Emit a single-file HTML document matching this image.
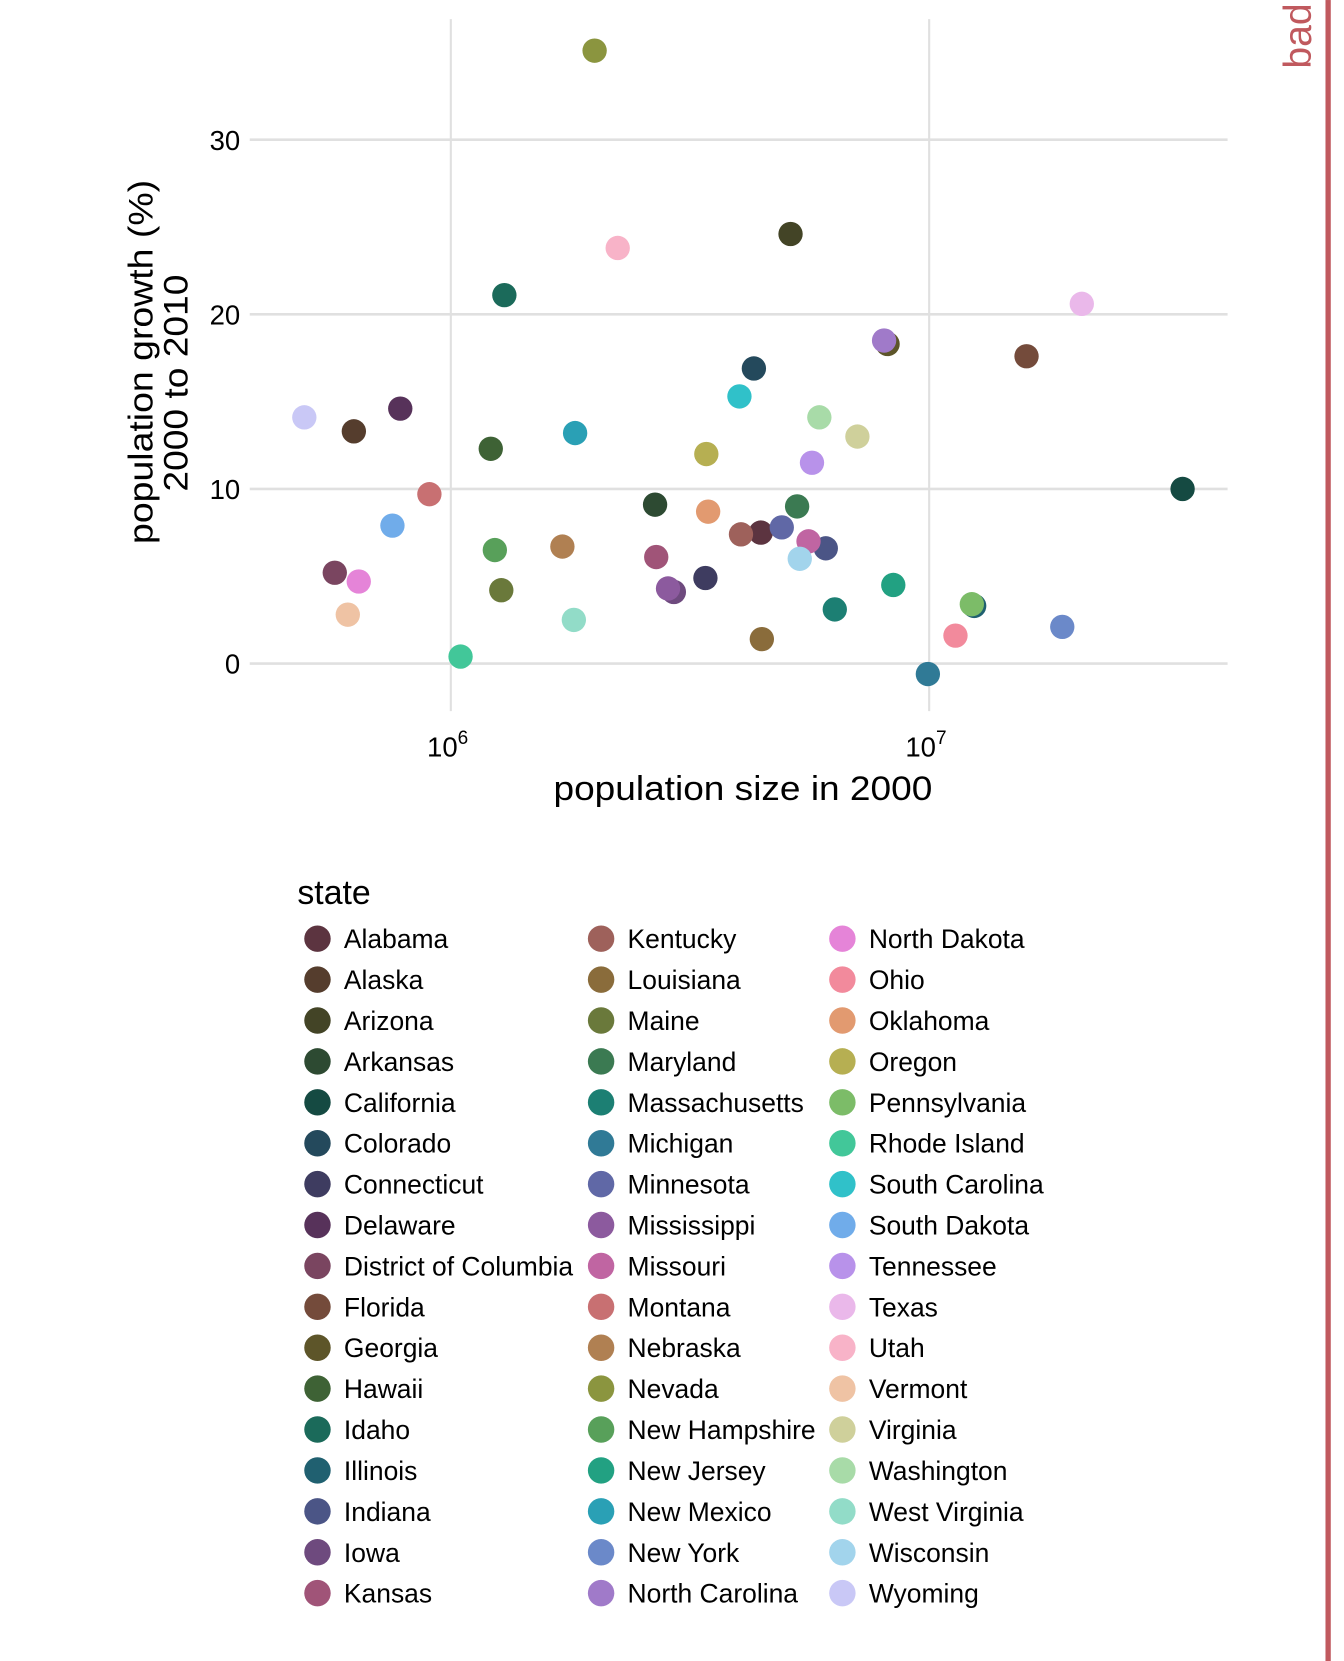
<!DOCTYPE html>
<html><head><meta charset="utf-8"><style>
html,body{margin:0;padding:0;background:#fff}
svg{display:block}
text{font-family:"Liberation Sans",Arial,sans-serif}
</style></head><body>
<svg id="chart" width="1344" height="1661" viewBox="0 0 1270 1569.5" xmlns="http://www.w3.org/2000/svg">
<g id="grid"></g>
<g id="points"></g>
<g id="axes"></g>
<g id="legend"></g>
<rect x="1252.5" y="0" width="5" height="1570" fill="#c0595e"/>
<text transform="translate(1239,34) rotate(-90)" text-anchor="middle" font-size="37" fill="#c0595e">bad</text>
</svg>
<script>
const states=["Alabama","Alaska","Arizona","Arkansas","California","Colorado","Connecticut","Delaware","District of Columbia","Florida","Georgia","Hawaii","Idaho","Illinois","Indiana","Iowa","Kansas","Kentucky","Louisiana","Maine","Maryland","Massachusetts","Michigan","Minnesota","Mississippi","Missouri","Montana","Nebraska","Nevada","New Hampshire","New Jersey","New Mexico","New York","North Carolina","North Dakota","Ohio","Oklahoma","Oregon","Pennsylvania","Rhode Island","South Carolina","South Dakota","Tennessee","Texas","Utah","Vermont","Virginia","Washington","West Virginia","Wisconsin","Wyoming"];
const pop2000=[4.447,0.627,5.131,2.673,33.87,4.301,3.406,0.784,0.572,15.98,8.186,1.212,1.294,12.42,6.080,2.926,2.688,4.042,4.469,1.275,5.296,6.349,9.938,4.919,2.845,5.595,0.902,1.711,1.998,1.236,8.414,1.819,18.98,8.049,0.642,11.35,3.451,3.421,12.28,1.048,4.012,0.755,5.689,20.85,2.233,0.609,7.079,5.894,1.808,5.364,0.494];
const growth=[7.5,13.3,24.6,9.1,10.0,16.9,4.9,14.6,5.2,17.6,18.3,12.3,21.1,3.3,6.6,4.1,6.1,7.4,1.4,4.2,9.0,3.1,-0.6,7.8,4.3,7.0,9.7,6.7,35.1,6.5,4.5,13.2,2.1,18.5,4.7,1.6,8.7,12.0,3.4,0.4,15.3,7.9,11.5,20.6,23.8,2.8,13.0,14.1,2.5,6.0,14.1];
const colors=["#5c3440","#553d2d","#434426","#2d4a32","#154a42","#24495c","#3e3c60","#57325a","#7a4560","#744b3b","#5d5529","#3e6235","#1b6a5a","#206070","#4b5586","#6e4a7e","#a05478","#9e615b","#8a6c3b","#6a793b","#3b7a52","#1c7f73","#307a96","#6068a6","#8c5a9e","#c065a2","#c87072","#b08052","#8b953f","#58a05a","#22a182","#2aa0b5","#6b89c9","#a07ac9","#e584d8","#f28a9c","#e29a70","#b6af52","#7cbc68","#42c799","#30c1c9","#70acea","#b892ea","#eab8ea","#f8b3c8","#efc3a4","#cfd09b","#a8dba8","#92dcc8","#a2d4ec","#c9c8f6"];
const yTicks=[0,10,20,30];
const xTickExp=[6,7];

const NS="http://www.w3.org/2000/svg";
function mk(tag,attrs,parent){const e=document.createElementNS(NS,tag);for(const k in attrs)e.setAttribute(k,attrs[k]);parent.appendChild(e);return e;}
const X0=236,X1=1160,Y0=18,Y1=672;
function xs(m){return 426+452*Math.log10(m);}
function ys(v){return 627-16.5*v;}
const grid=document.getElementById('grid'),pts=document.getElementById('points'),axes=document.getElementById('axes'),leg=document.getElementById('legend');

yTicks.forEach(t=>{
  const l=mk('line',{x1:X0,x2:X1,y1:ys(t),y2:ys(t),stroke:'#e0e0e0','stroke-width':2.5},grid);
  
  
  const tx=mk('text',{x:227,y:ys(t)+9.5,'text-anchor':'end','font-size':26,fill:'#000'},axes);
  tx.textContent=t;
  
  
});
xTickExp.forEach(e=>{
  const x=xs(Math.pow(10,e-6));
  const l=mk('line',{x1:x,x2:x,y1:Y0,y2:Y1,stroke:'#e0e0e0','stroke-width':2},grid);
  
  
  const tx=mk('text',{x:x-3,y:715,'text-anchor':'middle','font-size':26,fill:'#000'},axes);
  
  
  tx.textContent='10';
  const sp=mk('tspan',{dy:-12,'font-size':18},tx);sp.textContent=e;
});
states.forEach((s,i)=>{
  const c=mk('circle',{cx:xs(pop2000[i]),cy:ys(growth[i]),r:11.5,fill:colors[i]},pts);
  
  
});
let t=mk('text',{x:702,y:756,'text-anchor':'middle','font-size':32,fill:'#000',textLength:358,lengthAdjust:'spacingAndGlyphs'},axes);
t.textContent='population size in 2000';


t=mk('text',{transform:'translate(144,342) rotate(-90)','text-anchor':'middle','font-size':32,fill:'#000',textLength:344,lengthAdjust:'spacingAndGlyphs'},axes);
t.textContent='population growth (%)';


t=mk('text',{transform:'translate(177,362) rotate(-90)','text-anchor':'middle','font-size':32,fill:'#000',textLength:205,lengthAdjust:'spacingAndGlyphs'},axes);
t.textContent='2000 to 2010';



t=mk('text',{x:281,y:854,'font-size':32,fill:'#000'},leg);
t.textContent='state';


const colX=[300,568,796];
states.forEach((s,i)=>{
  const col=Math.floor(i/17),row=i%17;
  const y=887+row*38.65;
  const g=mk('g',{},leg);
  
  
  mk('circle',{cx:colX[col],cy:y,r:12.5,fill:colors[i]},g);
  const tx=mk('text',{x:colX[col]+25,y:y+9,'font-size':25,fill:'#000'},g);
  tx.textContent=s;
});
</script>
</body></html>
